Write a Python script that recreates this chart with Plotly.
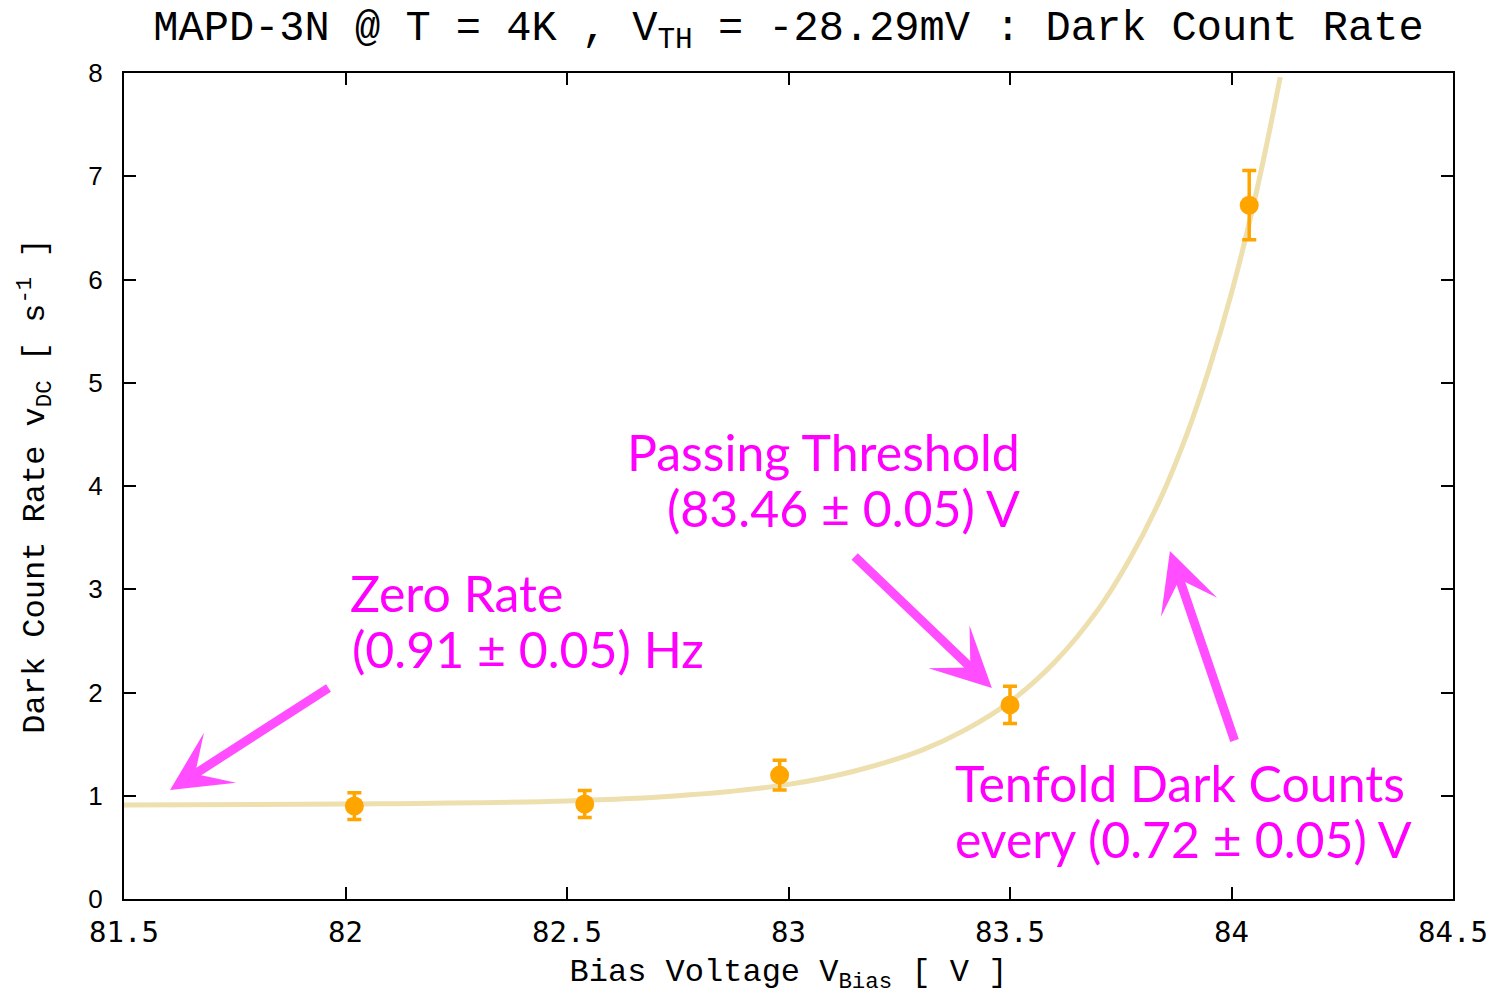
import plotly.graph_objects as go

# Measured dark count rates
bias_v = [82.02, 82.54, 82.98, 83.50, 84.04]
rate = [0.90, 0.92, 1.20, 1.88, 6.72]
rate_err = [0.13, 0.13, 0.145, 0.18, 0.335]

# Fit curve, points
fit_x = [81.5, 82.0, 82.5, 82.75, 83.0, 83.15, 83.3, 83.4, 83.5, 83.6, 83.7,
         83.77, 83.84, 83.9, 83.95, 84.0, 84.05, 84.08, 84.11]
fit_y = [0.91, 0.92, 0.95, 1.00, 1.11, 1.24, 1.44, 1.64, 1.91, 2.29, 2.81,
         3.29, 3.88, 4.51, 5.14, 5.87, 6.73, 7.32, 7.96]

x_ticks = [81.5, 82, 82.5, 83, 83.5, 84, 84.5]
x_tick_labels = ["81.5", "82", "82.5", "83", "83.5", "84", "84.5"]
y_ticks = [0, 1, 2, 3, 4, 5, 6, 7, 8]

MONO = "Liberation Mono"
ANN_FONT = "Lato"
TXT = "#ff00ff"
ARR = "#ff4dff"

fig = go.Figure()
fig.add_trace(go.Scatter(
    x=fit_x, y=fit_y, mode="lines",
    line=dict(color="#eddfae", width=5, shape="spline", smoothing=1.0),
    hoverinfo="skip", showlegend=False,
))
fig.add_trace(go.Scatter(
    x=bias_v, y=rate, mode="markers",
    marker=dict(color="#ffa500", size=19),
    error_y=dict(type="data", array=rate_err, color="#ffa500", thickness=3.5, width=7),
    showlegend=False,
))

axis_common = dict(
    showline=True, linecolor="black", linewidth=2, mirror="ticks",
    ticks="inside", ticklen=12, tickwidth=1.5, tickcolor="black",
    showgrid=False, zeroline=False, automargin=False,
)

fig.update_layout(
    width=1508, height=995,
    margin=dict(l=124, r=55, t=73, b=96, autoexpand=False),
    paper_bgcolor="white", plot_bgcolor="white",
    title=dict(
        text="MAPD-3N @ T = 4K , V<sub>TH</sub> = -28.29mV : Dark Count Rate",
        font=dict(family=MONO, size=42, color="black"),
        x=0.5, xanchor="center", xref="paper",
        y=0.975, yanchor="middle", yref="container",
    ),
    xaxis=dict(
        range=[81.5, 84.5], tickvals=x_ticks, ticktext=x_tick_labels,
        tickfont=dict(family="DejaVu Sans Mono", size=29, color="black"),
        ticklabelstandoff=6,
        title=dict(text="Bias Voltage V<sub>Bias</sub> [ V ]",
                   font=dict(family=MONO, size=32, color="black"), standoff=25),
        **axis_common,
    ),
    yaxis=dict(
        range=[0, 8], tickvals=y_ticks,
        tickfont=dict(family="Liberation Sans", size=26, color="black"),
        ticklabelstandoff=14,
        title=dict(text="Dark Count Rate v<sub>DC</sub> [ s<sup>-1</sup> ]",
                   font=dict(family=MONO, size=32, color="black"), standoff=34),
        **axis_common,
    ),
)

def label(text, x, y, anchor="left"):
    fig.add_annotation(
        text=text, x=x, y=y, xref="x", yref="y", showarrow=False,
        xanchor=anchor, yanchor="middle",
        font=dict(family=ANN_FONT, size=50, color=TXT),
    )

def arrow(x0, y0, x1, y1):
    fig.add_annotation(
        x=x1, y=y1, ax=x0, ay=y0, xref="x", yref="y", axref="x", ayref="y",
        text="", showarrow=True, arrowhead=3, arrowsize=1.1, arrowwidth=9,
        arrowcolor=ARR, standoff=0, startstandoff=0,
    )

# Zero rate
label("Zero Rate", 82.006, 2.96)
label("(0.91 ± 0.05) Hz", 82.010, 2.42)
arrow(81.965, 2.053, 81.604, 1.056)
# Passing threshold
label("Passing Threshold", 83.527, 4.33, anchor="right")
label("(83.46 ± 0.05) V", 83.527, 3.79, anchor="right")
arrow(83.146, 3.332, 83.459, 2.044)
# Tenfold
label("Tenfold Dark Counts", 83.371, 1.12)
label("every (0.72 ± 0.05) V", 83.371, 0.58)
arrow(84.008, 1.521, 83.861, 3.370)

fig.write_html(
    "out.html",
    config={"displayModeBar": False},
    post_script="document.body.style.margin='0';document.body.style.padding='0';"
                "document.body.style.overflow='hidden';",
)
